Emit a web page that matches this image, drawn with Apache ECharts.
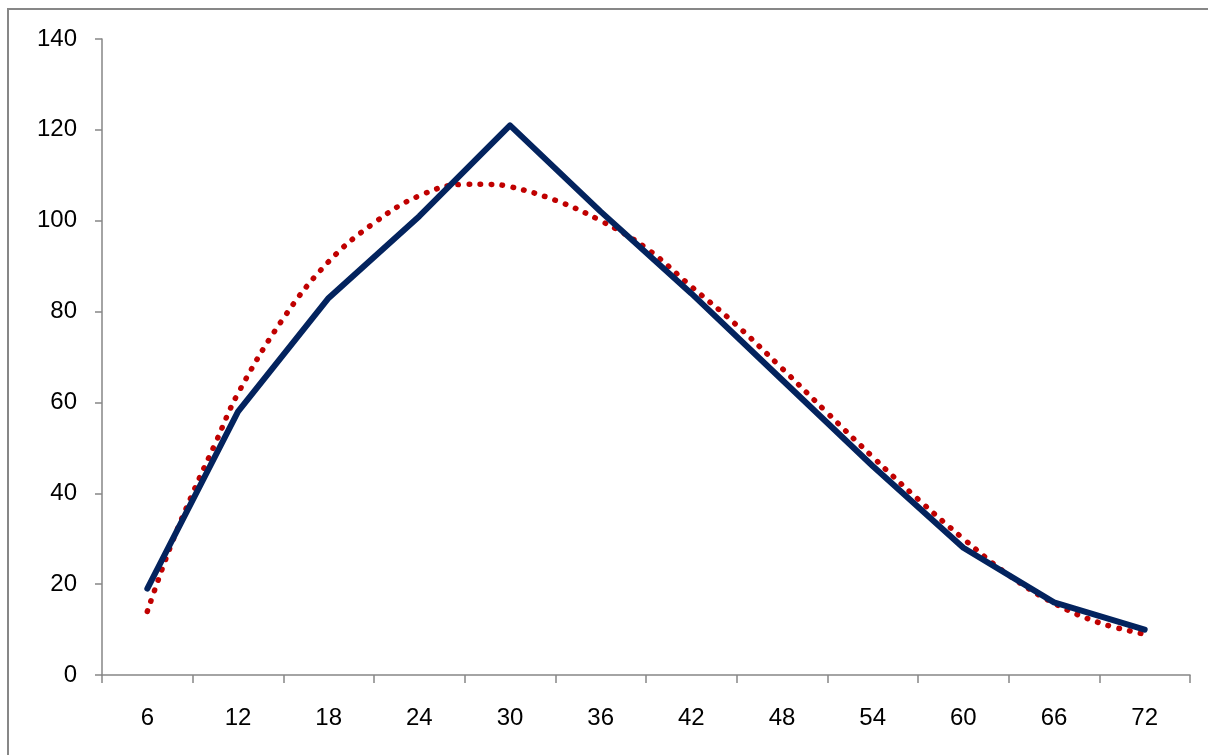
<!DOCTYPE html>
<html>
<head>
<meta charset="utf-8">
<script src="https://cdn.jsdelivr.net/npm/echarts@6/dist/echarts.min.js"></script>
<style>
  html, body { margin: 0; padding: 0; background: #fff; }
  #main { width: 1208px; height: 755px; }
</style>
</head>
<body>
<div id="main"></div>
<script>
// categories on the x axis
const hours = ['6', '12', '18', '24', '30', '36', '42', '48', '54', '60', '66', '72'];
// measured values (solid navy line)
const measured = [19, 58, 83, 101, 121, 102, 84, 65, 46, 28, 16, 10];
// trend line (red dots) at every half step
const trendX = [6, 7.5, 9, 10.5, 12, 15, 18, 21, 24, 27, 28.5, 30, 33, 36, 39, 42, 45, 48, 51, 54, 57, 60, 63, 66, 69, 72];
const trendY = [14, 28, 40, 51, 62, 78.5, 91, 99.5, 105.5, 108, 108, 107.5, 104.5, 100, 94, 85.5, 77, 67.5, 57.7, 48, 38.7, 30, 22, 15.8, 11.5, 9];
const yTicks = [0, 20, 40, 60, 80, 100, 120, 140];

const chartDom = document.getElementById('main');
const myChart = echarts.init(chartDom);

const axisGray = '#868686';
const font = '"Liberation Sans", Arial, sans-serif';

const option = {
  animation: false,
  backgroundColor: '#fff',
  graphic: [
    {
      type: 'rect',
      shape: { x: 8, y: 9, width: 1300, height: 900 },
      style: { fill: 'none', stroke: '#878787', lineWidth: 2 },
      silent: true
    }
  ],
  grid: { left: 102, right: 18, top: 39, bottom: 80 },
  xAxis: [
    {
      type: 'category',
      data: hours,
      boundaryGap: true,
      axisLine: { lineStyle: { color: axisGray, width: 1.5 } },
      axisTick: { show: true, length: 8, lineStyle: { color: axisGray, width: 1.5 } },
      axisLabel: { color: '#000', fontSize: 24, fontFamily: font, margin: 31 },
      splitLine: { show: false }
    },
    {
      type: 'value',
      min: 3,
      max: 75,
      show: false
    }
  ],
  yAxis: {
    type: 'value',
    min: yTicks[0],
    max: yTicks[yTicks.length - 1],
    interval: 20,
    axisLine: { show: true, lineStyle: { color: axisGray, width: 1.5 } },
    axisTick: { show: true, length: 7, lineStyle: { color: axisGray, width: 1.5 } },
    axisLabel: { color: '#000', fontSize: 24, fontFamily: font, margin: 25 },
    splitLine: { show: false }
  },
  series: [
    {
      name: 'trend',
      type: 'line',
      xAxisIndex: 1,
      data: trendX.map((x, i) => [x, trendY[i]]),
      smooth: 0.4,
      symbol: 'none',
      lineStyle: { color: '#C00000', width: 5.5, type: [0.5, 10.5], cap: 'round' },
      z: 2
    },
    {
      name: 'measured',
      type: 'line',
      xAxisIndex: 0,
      data: measured,
      symbol: 'none',
      lineStyle: { color: '#03235E', width: 6, cap: 'round', join: 'round' },
      z: 3
    }
  ]
};

myChart.setOption(option);
</script>
</body>
</html>
